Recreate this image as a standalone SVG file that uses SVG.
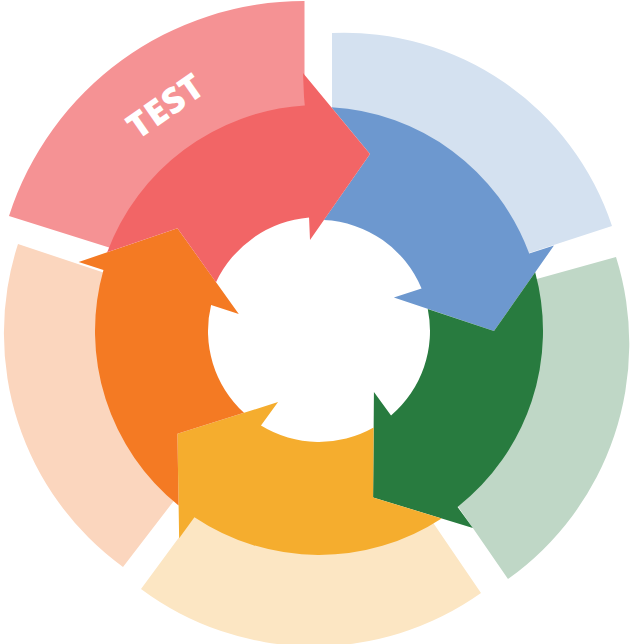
<svg xmlns="http://www.w3.org/2000/svg" width="630" height="644" viewBox="0 0 630 644">
  <style>
    .red-l{fill:#F59294}.red{fill:#F26566}
    .blue-l{fill:#D4E1F0}.blue{fill:#6D98CF}
    .green-l{fill:#BFD7C6}.green{fill:#287B3F}
    .yellow-l{fill:#FCE6C3}.yellow{fill:#F5AD2E}
    .orange-l{fill:#FBD6BE}.orange{fill:#F47A23}
    .label{font-family:"Open Sans","Liberation Sans",sans-serif;font-weight:800;font-size:35px;fill:#FFFFFF;letter-spacing:1px}
  </style>
  <rect width="630" height="644" fill="#FFFFFF"/>
  <g id="connectors"/>
  <g id="stage-blue">
    <path class="blue-l" d="M332,33 A282,282 0 0 1 612,226 L526.13,253.96 A221,221 0 0 0 332,110.4 Z"/>
    <path class="blue" d="M331.41,107.34 A224,224 0 0 1 529.21,253.6 L553.95,245.56 L493.99,331 L393.89,297.57 L421.57,288.57 A111,111 0 0 0 323.88,220.11 L370,154 Z"/>
  </g>
  <g id="stage-green">
    <path class="green-l" d="M616,257 A289,289 0 0 1 508,579 L456.39,504.11 A221,221 0 0 0 534,279.84 Z"/>
    <path class="green" d="M535.18,272.31 A224,224 0 0 1 457.57,507 L472.86,528.05 L373.08,497.44 L373.93,391.9 L391.04,415.45 A111,111 0 0 0 427.77,308.88 L493.99,331 Z"/>
  </g>
  <g id="stage-yellow">
    <path class="yellow-l" d="M481,593 A289,289 0 0 1 141,589 L195.83,514.5 A221,221 0 0 0 431.93,520.96 Z"/>
    <path class="yellow" d="M441.62,518.46 A224,224 0 0 1 194.43,517.16 L179.14,538.21 L177.42,433.86 L278.07,402.06 L260.96,425.61 A111,111 0 0 0 373.64,427.61 L373.08,497.44 Z"/>
  </g>
  <g id="stage-orange">
    <path class="orange-l" d="M123,567 A289,289 0 0 1 18,244 L105.69,273.23 A221,221 0 0 0 175.31,498.9 Z"/>
    <path class="orange" d="M178.6,505.54 A224,224 0 0 1 103.45,270.06 L78.71,262.02 L177.43,228.14 L238.77,314.03 L211.09,305.03 A111,111 0 0 0 244,412.83 L177.42,433.86 Z"/>
  </g>
  <g id="stage-red">
    <path class="red-l" d="M9,216 A310,310 0 0 1 304.5,1 L304.5,110.5 A221,221 0 0 0 113.86,248.89 Z"/>
    <path class="red" d="M107.16,252.25 A226,226 0 0 1 304.36,105.47 L303,73 L370,154 L310,240 L309.05,217.4 A114,114 0 0 0 215.99,282.15 L177.43,228.14 Z"/>
    <text class="label" transform="translate(165,106) rotate(-35)" x="0.5" y="12.5" text-anchor="middle">TEST</text>
  </g>
</svg>
